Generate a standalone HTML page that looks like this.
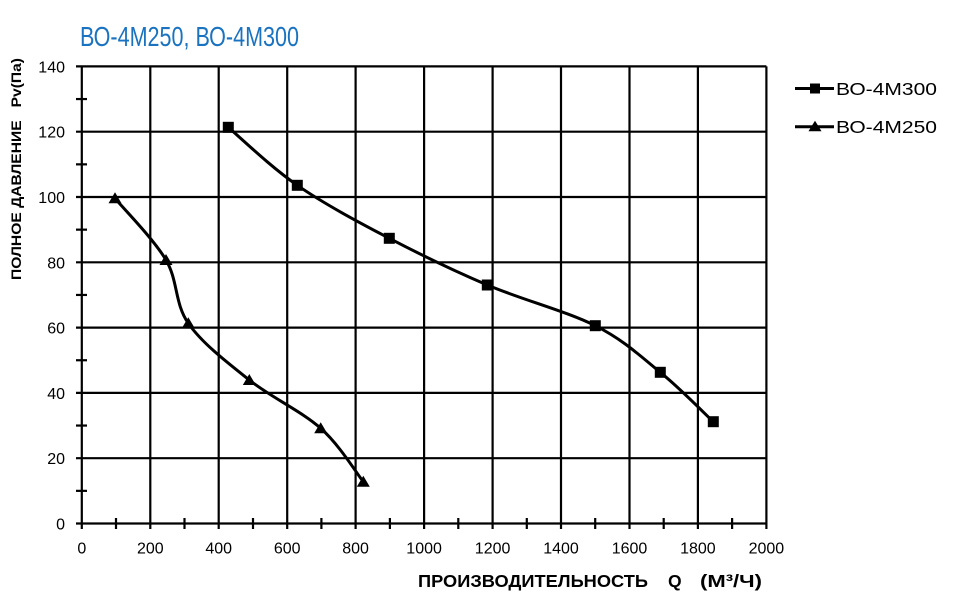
<!DOCTYPE html>
<html><head><meta charset="utf-8"><style>
html,body{margin:0;padding:0;background:#fff;}
svg{display:block;}
text{font-family:"Liberation Sans",Arial,sans-serif;}
</style></head><body>
<svg width="954" height="611" viewBox="0 0 954 611" xmlns="http://www.w3.org/2000/svg">
<rect width="954" height="611" fill="#fff"/>
<text x="80" y="46" font-size="28" fill="#1a73c0" textLength="219" lengthAdjust="spacingAndGlyphs">ВО-4М250, ВО-4М300</text>
<g stroke="#000" stroke-width="2.2" fill="none">
<line x1="81.8" y1="66.4" x2="81.8" y2="529"/>
<line x1="150.3" y1="66.4" x2="150.3" y2="529"/>
<line x1="218.7" y1="66.4" x2="218.7" y2="529"/>
<line x1="287.2" y1="66.4" x2="287.2" y2="529"/>
<line x1="355.6" y1="66.4" x2="355.6" y2="529"/>
<line x1="424.1" y1="66.4" x2="424.1" y2="529"/>
<line x1="492.6" y1="66.4" x2="492.6" y2="529"/>
<line x1="561" y1="66.4" x2="561" y2="529"/>
<line x1="629.5" y1="66.4" x2="629.5" y2="529"/>
<line x1="697.9" y1="66.4" x2="697.9" y2="529"/>
<line x1="766.4" y1="66.4" x2="766.4" y2="529"/>
<line x1="76" y1="523.5" x2="766.4" y2="523.5"/>
<line x1="76" y1="458.2" x2="766.4" y2="458.2"/>
<line x1="76" y1="392.9" x2="766.4" y2="392.9"/>
<line x1="76" y1="327.6" x2="766.4" y2="327.6"/>
<line x1="76" y1="262.3" x2="766.4" y2="262.3"/>
<line x1="76" y1="197" x2="766.4" y2="197"/>
<line x1="76" y1="131.7" x2="766.4" y2="131.7"/>
<line x1="76" y1="66.4" x2="766.4" y2="66.4"/>
<line x1="76" y1="490.85" x2="87" y2="490.85"/>
<line x1="76" y1="425.55" x2="87" y2="425.55"/>
<line x1="76" y1="360.25" x2="87" y2="360.25"/>
<line x1="76" y1="294.95" x2="87" y2="294.95"/>
<line x1="76" y1="229.65" x2="87" y2="229.65"/>
<line x1="76" y1="164.35" x2="87" y2="164.35"/>
<line x1="76" y1="99.05" x2="87" y2="99.05"/>
<line x1="116" y1="518" x2="116" y2="529"/>
<line x1="184.5" y1="518" x2="184.5" y2="529"/>
<line x1="253" y1="518" x2="253" y2="529"/>
<line x1="321.4" y1="518" x2="321.4" y2="529"/>
<line x1="389.9" y1="518" x2="389.9" y2="529"/>
<line x1="458.3" y1="518" x2="458.3" y2="529"/>
<line x1="526.8" y1="518" x2="526.8" y2="529"/>
<line x1="595.2" y1="518" x2="595.2" y2="529"/>
<line x1="663.7" y1="518" x2="663.7" y2="529"/>
<line x1="732.1" y1="518" x2="732.1" y2="529"/>
</g>
<g font-size="16" fill="#000" text-anchor="end">
<text x="65" y="529.5">0</text>
<text x="65" y="464.2">20</text>
<text x="65" y="398.9">40</text>
<text x="65" y="333.6">60</text>
<text x="65" y="268.3">80</text>
<text x="65" y="203">100</text>
<text x="65" y="137.7">120</text>
<text x="65" y="72.4">140</text>
</g>
<g font-size="16" fill="#000" text-anchor="middle">
<text x="81.8" y="553.5">0</text>
<text x="150.3" y="553.5">200</text>
<text x="218.7" y="553.5">400</text>
<text x="287.2" y="553.5">600</text>
<text x="355.6" y="553.5">800</text>
<text x="424.1" y="553.5">1000</text>
<text x="492.6" y="553.5">1200</text>
<text x="561" y="553.5">1400</text>
<text x="629.5" y="553.5">1600</text>
<text x="697.9" y="553.5">1800</text>
<text x="766.4" y="553.5">2000</text>
</g>
<g font-size="17.5" font-weight="bold" fill="#000">
<text x="418" y="587" textLength="230" lengthAdjust="spacingAndGlyphs">ПРОИЗВОДИТЕЛЬНОСТЬ</text>
<text x="668" y="587">Q</text>
<text x="700" y="587" textLength="62" lengthAdjust="spacingAndGlyphs">(М³/Ч)</text>
</g>
<text transform="translate(21,169) rotate(-90)" text-anchor="middle" font-size="14" font-weight="bold" textLength="222" lengthAdjust="spacingAndGlyphs" xml:space="preserve">ПОЛНОЕ ДАВЛЕНИЕ   Pv(Па)</text>
<g stroke="#000" stroke-width="3" fill="none" stroke-linejoin="round">
<path d="M228.3,127.3 C239.8,137.0 270.5,166.8 297.3,185.3 C324.1,203.8 357.6,221.7 389.3,238.3 C421.0,254.9 453.0,270.4 487.3,285 C521.6,299.6 566.5,311.2 595.3,325.7 C624.1,340.3 640.6,356.3 660.3,372.3 C680.0,388.3 704.5,413.5 713.3,421.7"/>
<path d="M115,198.3 C123.5,208.6 153.8,239.2 166,260 C178.2,280.8 174.4,303.3 188.3,323.3 C202.2,343.3 227.2,362.5 249.3,380 C271.4,397.5 301.7,411.35 320.7,428.3 C339.7,445.25 356.2,472.8 363.3,481.7"/>
</g>
<g fill="#000">
<rect x="222.8" y="121.8" width="11" height="11"/>
<rect x="291.8" y="179.8" width="11" height="11"/>
<rect x="383.8" y="232.8" width="11" height="11"/>
<rect x="481.8" y="279.5" width="11" height="11"/>
<rect x="589.8" y="320.2" width="11" height="11"/>
<rect x="654.8" y="366.8" width="11" height="11"/>
<rect x="707.8" y="416.2" width="11" height="11"/>
<polygon points="115,192.3 121.5,203.3 108.5,203.3"/>
<polygon points="166,254 172.5,265 159.5,265"/>
<polygon points="188.3,317.3 194.8,328.3 181.8,328.3"/>
<polygon points="249.3,374 255.8,385 242.8,385"/>
<polygon points="320.7,422.3 327.2,433.3 314.2,433.3"/>
<polygon points="363.3,475.7 369.8,486.7 356.8,486.7"/>
</g>
<g stroke="#000" stroke-width="3">
<line x1="795" y1="88.5" x2="834" y2="88.5"/>
<line x1="795" y1="126.7" x2="834" y2="126.7"/>
</g>
<rect x="810" y="83.5" width="10" height="10" fill="#000"/>
<polygon points="815,120.7 821.5,131.2 808.5,131.2" fill="#000"/>
<text x="836" y="94.8" font-size="17.5" textLength="101" lengthAdjust="spacingAndGlyphs">ВО-4М300</text>
<text x="836" y="133" font-size="17.5" textLength="101" lengthAdjust="spacingAndGlyphs">ВО-4М250</text>
</svg>
</body></html>
